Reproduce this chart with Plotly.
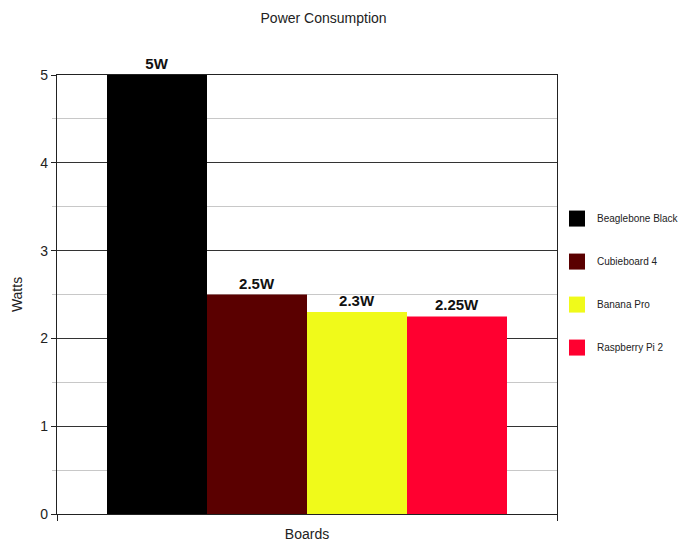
import plotly.graph_objects as go

boards = ["Beaglebone Black", "Cubieboard 4", "Banana Pro", "Raspberry Pi 2"]
watts = [5, 2.5, 2.3, 2.25]
labels = ["5W", "2.5W", "2.3W", "2.25W"]
colors = ["#000000", "#5a0000", "#f0fa1a", "#ff0030"]

fig = go.Figure()
for i, (b, w, lab, c) in enumerate(zip(boards, watts, labels, colors)):
    fig.add_trace(go.Bar(
        x=["Boards"], y=[w], name=b, marker=dict(color=c, line=dict(width=0)),
        text=[lab], textposition="outside", cliponaxis=False,
        textfont=dict(family="Liberation Sans, Arial", size=15, color="#111"),
        texttemplate="<b>%{text}</b>", showlegend=False,
    ))
for i, (b, c) in enumerate(zip(boards, colors)):
    fig.add_trace(go.Scatter(
        x=[None], y=[None], mode="markers", name=b, legendgroup=f"g{i}",
        marker=dict(symbol="square", size=16, color=c, line=dict(width=0)),
    ))

fig.update_layout(
    width=686, height=544,
    margin=dict(l=49, r=137, t=67, b=38, autoexpand=False),
    paper_bgcolor="white", plot_bgcolor="white",
    barmode="group", bargap=0.2, bargroupgap=0,
    font=dict(family="Liberation Sans, Arial", color="#222"),
    title=dict(text="Power Consumption", x=0.46, xanchor="center", y=0.982, yanchor="middle",
               font=dict(size=14, color="#222")),
    showlegend=True,
    legend=dict(x=1.0, xanchor="left", y=0.706, yanchor="top",
                font=dict(size=10, color="#222"), tracegroupgap=24,
                bgcolor="rgba(0,0,0,0)"),
    xaxis=dict(showticklabels=False, showline=True, linecolor="#222", linewidth=1.2,
               mirror=True, ticks="outside", tickson="boundaries", ticklen=6,
               tickcolor="#222", showgrid=False,
               title=dict(text="Boards", font=dict(size=14, color="#222"), standoff=15)),
    yaxis=dict(range=[0, 5], dtick=1, showline=True, linecolor="#222", linewidth=1.2,
               mirror=True, ticks="outside", ticklen=5, tickcolor="#222",
               gridcolor="#333", gridwidth=1, zeroline=False,
               tickfont=dict(size=14, color="#222"),
               minor=dict(dtick=0.5, showgrid=True, gridcolor="#c8c8c8", gridwidth=1,
                          ticks="outside", ticklen=4, tickcolor="#c8c8c8"),
               title=dict(text="Watts", font=dict(size=14, color="#222"), standoff=14)),
)

fig.write_html("out.html")
